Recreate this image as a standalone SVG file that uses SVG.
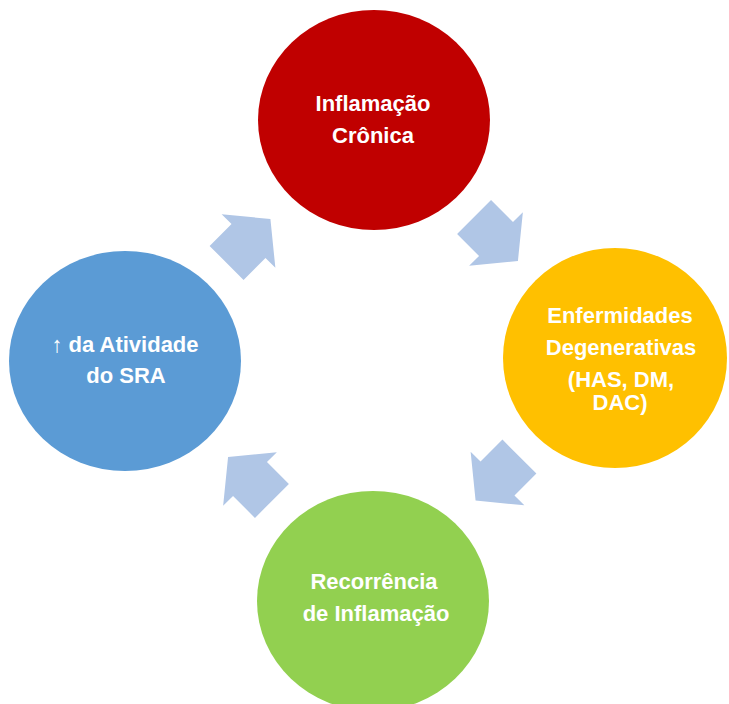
<svg xmlns="http://www.w3.org/2000/svg" width="729" height="704" viewBox="0 0 729 704">
<defs>
<style>
.lbl{font-family:"Liberation Sans",Arial,Helvetica,sans-serif;font-weight:bold;font-size:22px;fill:#FFFFFF;text-anchor:middle}
.arr{fill:#B0C6E6}
</style>
<polygon id="blockArrow" points="-31,-24 0,-24 0,-38 31,0 0,38 0,24 -31,24"/>
</defs>
<rect width="729" height="704" fill="#FFFFFF"/>
<g id="connectors">
<use href="#blockArrow" class="arr" transform="translate(248.5,241) rotate(-45)"/>
<use href="#blockArrow" class="arr" transform="translate(496,239) rotate(45)"/>
<use href="#blockArrow" class="arr" transform="translate(497.5,478.5) rotate(135)"/>
<use href="#blockArrow" class="arr" transform="translate(250,479) rotate(-135)"/>
</g>
<g id="node-inflamacao-cronica">
<ellipse cx="374" cy="120" rx="116" ry="110" fill="#C00000"/>
<text class="lbl" x="373" y="111">Inflamação</text>
<text class="lbl" x="373" y="143">Crônica</text>
</g>
<g id="node-enfermidades">
<ellipse cx="615" cy="358" rx="112" ry="110" fill="#FFC000"/>
<text class="lbl" x="620" y="323">Enfermidades</text>
<text class="lbl" x="621" y="355">Degenerativas</text>
<text class="lbl" x="621" y="387">(HAS, DM,</text>
<text class="lbl" x="620" y="410">DAC)</text>
</g>
<g id="node-recorrencia">
<ellipse cx="373" cy="601" rx="116" ry="110" fill="#92D050"/>
<text class="lbl" x="374" y="589">Recorrência</text>
<text class="lbl" x="376" y="621">de Inflamação</text>
</g>
<g id="node-atividade-sra">
<ellipse cx="125" cy="361" rx="116" ry="110" fill="#5B9BD5"/>
<text class="lbl" x="125" y="352">↑ da Atividade</text>
<text class="lbl" x="126" y="383">do SRA</text>
</g>
</svg>
